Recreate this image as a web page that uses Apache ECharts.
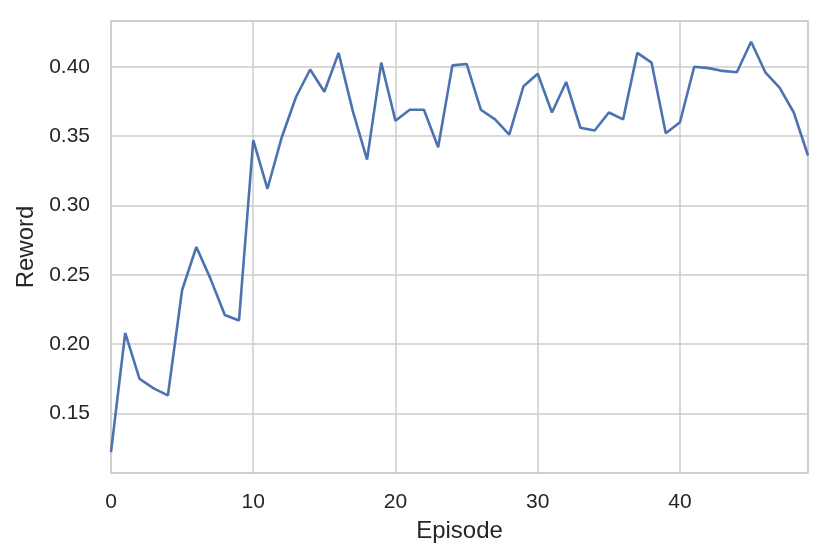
<!DOCTYPE html>
<html>
<head>
<meta charset="utf-8">
<script src="https://cdn.jsdelivr.net/npm/echarts@6/dist/echarts.min.js"></script>
<style>
  html, body { margin: 0; padding: 0; background: #fff; }
  #chart { width: 829px; height: 560px; }
</style>
</head>
<body>
<div id="chart"></div>
<script>
// reward per episode
const rewards = [
  0.122, 0.208, 0.175, 0.168, 0.163, 0.239, 0.270, 0.247, 0.221, 0.217,
  0.347, 0.312, 0.349, 0.378, 0.398, 0.382, 0.410, 0.368, 0.333, 0.403,
  0.361, 0.369, 0.369, 0.342, 0.401, 0.402, 0.369, 0.362, 0.351, 0.386,
  0.395, 0.367, 0.389, 0.356, 0.354, 0.367, 0.362, 0.410, 0.403, 0.352,
  0.360, 0.400, 0.399, 0.397, 0.396, 0.418, 0.396, 0.385, 0.367, 0.336
];
const xName = "Episode";
const yName = "Reword";

const textColor = "#262626";
const gridColor = "#cccccc";
const fontFamily = "'Liberation Sans', Arial, sans-serif";

const chart = echarts.init(document.getElementById("chart"));

chart.setOption({
  animation: false,
  textStyle: { fontFamily: fontFamily },
  grid: {
    left: 111,
    right: 21,
    top: 21,
    bottom: 87,
    show: true,
    borderColor: gridColor,
    borderWidth: 1.5
  },
  xAxis: {
    type: "value",
    min: 0,
    max: 49,
    interval: 10,
    name: xName,
    nameLocation: "middle",
    nameGap: 46,
    nameTextStyle: { fontSize: 24, color: textColor, fontFamily: fontFamily },
    axisLine: { show: false },
    axisTick: { show: false },
    axisLabel: {
      color: textColor,
      fontSize: 21,
      margin: 19,
      showMaxLabel: false,
      fontFamily: fontFamily
    },
    splitLine: { show: true, lineStyle: { color: gridColor, width: 1.5 } }
  },
  yAxis: {
    type: "value",
    min: 0.107,
    max: 0.433,
    name: yName,
    nameLocation: "middle",
    nameGap: 73,
    nameTextStyle: { fontSize: 24, color: textColor, fontFamily: fontFamily },
    axisLine: { show: false },
    axisTick: { show: false },
    axisLabel: {
      color: textColor,
      fontSize: 21,
      margin: 21,
      showMinLabel: false,
      showMaxLabel: false,
      fontFamily: fontFamily,
      formatter: v => v.toFixed(2)
    },
    splitLine: { show: true, lineStyle: { color: gridColor, width: 1.5 } }
  },
  series: [
    {
      type: "line",
      data: rewards.map((v, i) => [i, v]),
      showSymbol: false,
      lineStyle: { color: "#4c72b0", width: 2.6 },
      itemStyle: { color: "#4c72b0" }
    }
  ]
});
</script>
</body>
</html>
